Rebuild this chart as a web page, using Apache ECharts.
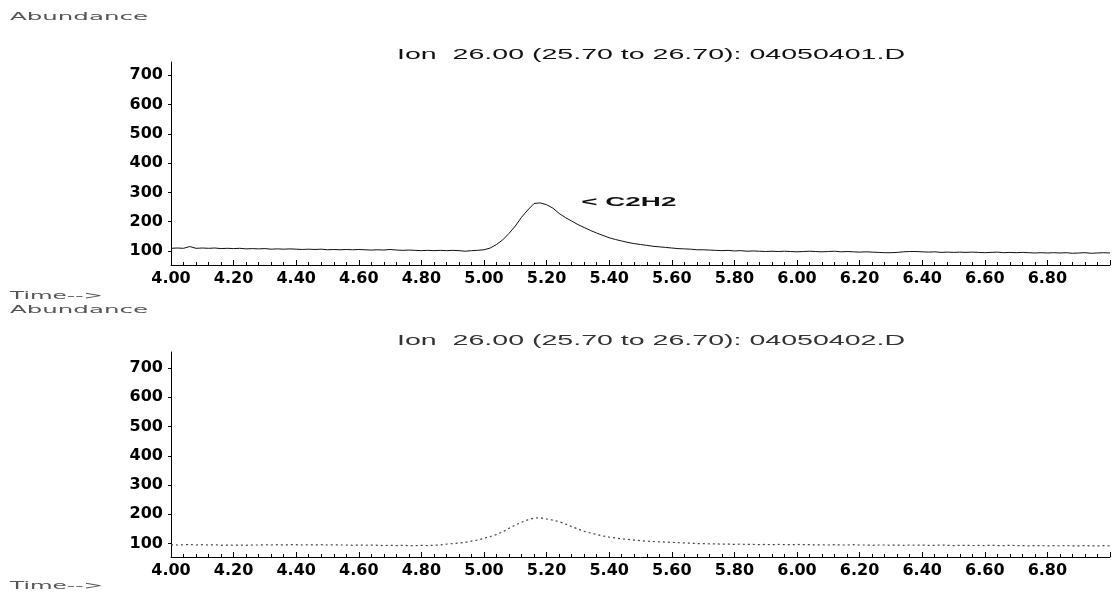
<!DOCTYPE html>
<html><head><meta charset="utf-8">
<script src="https://cdn.jsdelivr.net/npm/echarts@6/dist/echarts.min.js"></script>
<style>html,body{margin:0;padding:0;background:#fff}#c{width:1112px;height:596px}</style>
</head><body><div id="c"></div>
<script>
// sampling grid of the chromatograms (minutes)
const timeStart = 4.00, timeStep = 0.02;

// Run 04050401.D, abundance every 0.02 min from 4.00 to 7.00
const run1Abundance = [
 109,110,109,115,109,110,109,110,108,109, 108,109,107,108,107,108,106,107,106,107,
 106,105,106,105,106,104,105,104,105,104, 105,104,103,104,103,105,103,102,103,102,
 101,102,101,102,101,102,101, 99,101,102,
 104,110,122,138,160,185,215,240,262,264, 258,246,228,214,202,190,180,170,161,153,
 145,139,134,129,125,122,119,116,114,112, 110,108,107,106,104,104,103,102,101,102,
 100,101, 99,100, 99, 98, 99, 98, 99, 98,  97, 98, 99, 98, 97, 98, 99, 97, 98, 97,
  96, 97, 96, 95, 94, 94, 95, 97, 98, 98,  97, 96, 97, 95, 96, 95, 96, 95, 96, 95,
  94, 95, 96, 94, 95, 94, 95, 94, 93, 94,  93, 94, 93, 94, 92, 93, 94, 92, 93, 94,
  93
];

// Run 04050402.D, abundance every 0.02 min from 4.00 to 7.00
const run2Abundance = [
  96, 95, 96, 97, 95, 96, 95, 96, 94, 95,  94, 95, 94, 95, 95, 96, 95, 96, 95, 96,
  96, 95, 96, 95, 96, 95, 96, 95, 95, 94,  95, 94, 95, 94, 93, 94, 93, 94, 93, 93,
  94, 93, 94, 95, 98,100,102,104,108,112,
 118,124,131,140,152,163,173,181,187,188, 184,180,175,167,158,150,142,136,131,126,
 122,119,116,114,112,110,108,107,106,105, 104,103,102,101,100,100, 99, 99, 98, 98,
  97, 98, 97, 97, 96, 97, 96, 97, 96, 96,  97, 96, 96, 95, 96, 95, 96, 95, 95, 96,
  95, 95, 94, 95, 95, 94, 95, 94, 95, 94,  95, 94, 94, 95, 94, 93, 94, 94, 93, 94,
  93, 94, 93, 93, 94, 93, 93, 92, 93, 93,  92, 93, 92, 93, 92, 92, 93, 92, 92, 93,
  92
];

const xTickLabels = [4.0,4.2,4.4,4.6,4.8,5.0,5.2,5.4,5.6,5.8,6.0,6.2,6.4,6.6,6.8];
const yTickLabels = [100,200,300,400,500,600,700];
const panelTitles = ['Ion  26.00 (25.70 to 26.70): 04050401.D', 'Ion  26.00 (25.70 to 26.70): 04050402.D'];
const yAxisName = 'Abundance';
const xAxisName = 'Time-->';
const peakLabel = '< C2H2';
const peakLabelAt = [5.311, 264];

const toPairs = arr => arr.map((v, i) => [+(timeStart + i * timeStep).toFixed(2), v]);

const chart = echarts.init(document.getElementById('c'), null, {renderer: 'canvas'});

function xAxisCfg(gi) {
  return {
    type: 'value', gridIndex: gi, min: 4.0, max: 7.0, interval: 0.2,
    axisLine: {show: true, onZero: false, lineStyle: {color: '#000', width: 1}},
    axisTick: {show: true, inside: true, length: 5, lineStyle: {color: '#000'}},
    minorTick: {show: true, splitNumber: 5, length: 3, lineStyle: {color: '#000'}},
    splitLine: {show: false},
    axisLabel: {
      customValues: xTickLabels, margin: 6,
      formatter: v => v.toFixed(2),
      color: '#000', fontFamily: 'DejaVu Sans', fontWeight: 'bold', fontSize: 16
    }
  };
}
function yAxisCfg(gi, min, max) {
  return {
    type: 'value', gridIndex: gi, min: min, max: max,
    axisLine: {show: true, lineStyle: {color: '#000', width: 1}},
    axisTick: {show: true, customValues: yTickLabels, length: 3, lineStyle: {color: '#000'}},
    splitLine: {show: false},
    axisLabel: {
      customValues: yTickLabels, margin: 8,
      color: '#000', fontFamily: 'DejaVu Sans', fontWeight: 'bold', fontSize: 16
    }
  };
}

chart.setOption({
  animation: false,
  backgroundColor: '#fff',
  grid: [
    {left: 171, right: 2, top: 62, height: 203},
    {left: 171, right: 2, top: 352, height: 205}
  ],
  xAxis: [xAxisCfg(0), xAxisCfg(1)],
  yAxis: [yAxisCfg(0, 52, 745), yAxisCfg(1, 54, 755)],
  series: [
    {type: 'line', xAxisIndex: 0, yAxisIndex: 0, data: toPairs(run1Abundance),
     symbol: 'none', lineStyle: {color: '#111', width: 1}},
    {type: 'line', xAxisIndex: 1, yAxisIndex: 1, data: toPairs(run2Abundance),
     symbol: 'none', lineStyle: {color: '#444', width: 1.2, type: [2, 3]}}
  ]
});

// stretched text (the reference uses a wide face)
const mctx = document.createElement('canvas').getContext('2d');
function wideText(text, x, y, targetW, font, fill) {
  mctx.font = font;
  const w = mctx.measureText(text).width;
  return {type: 'text', x: x, y: y, scaleX: targetW / w, silent: true,
    style: {text: text, font: font, fill: fill, textAlign: 'left', textVerticalAlign: 'middle'}};
}
const grayFont = '11px "DejaVu Sans"';
const titleFont = '14px "Liberation Sans"';
const peakPx = chart.convertToPixel({gridIndex: 0}, peakLabelAt);
chart.setOption({
  graphic: [
    wideText(yAxisName, 10, 17, 138, grayFont, '#555'),
    wideText(xAxisName, 10, 296, 93, grayFont, '#555'),
    wideText(yAxisName, 10, 310, 138, grayFont, '#555'),
    wideText(xAxisName, 10, 586, 93, grayFont, '#555'),
    wideText(panelTitles[0], 397, 55, 508, titleFont, '#111'),
    wideText(panelTitles[1], 397, 341, 508, titleFont, '#333'),
    wideText(peakLabel, peakPx[0], peakPx[1], 95, 'bold 13px "Liberation Sans"', '#111')
  ]
});
</script>
</body></html>
